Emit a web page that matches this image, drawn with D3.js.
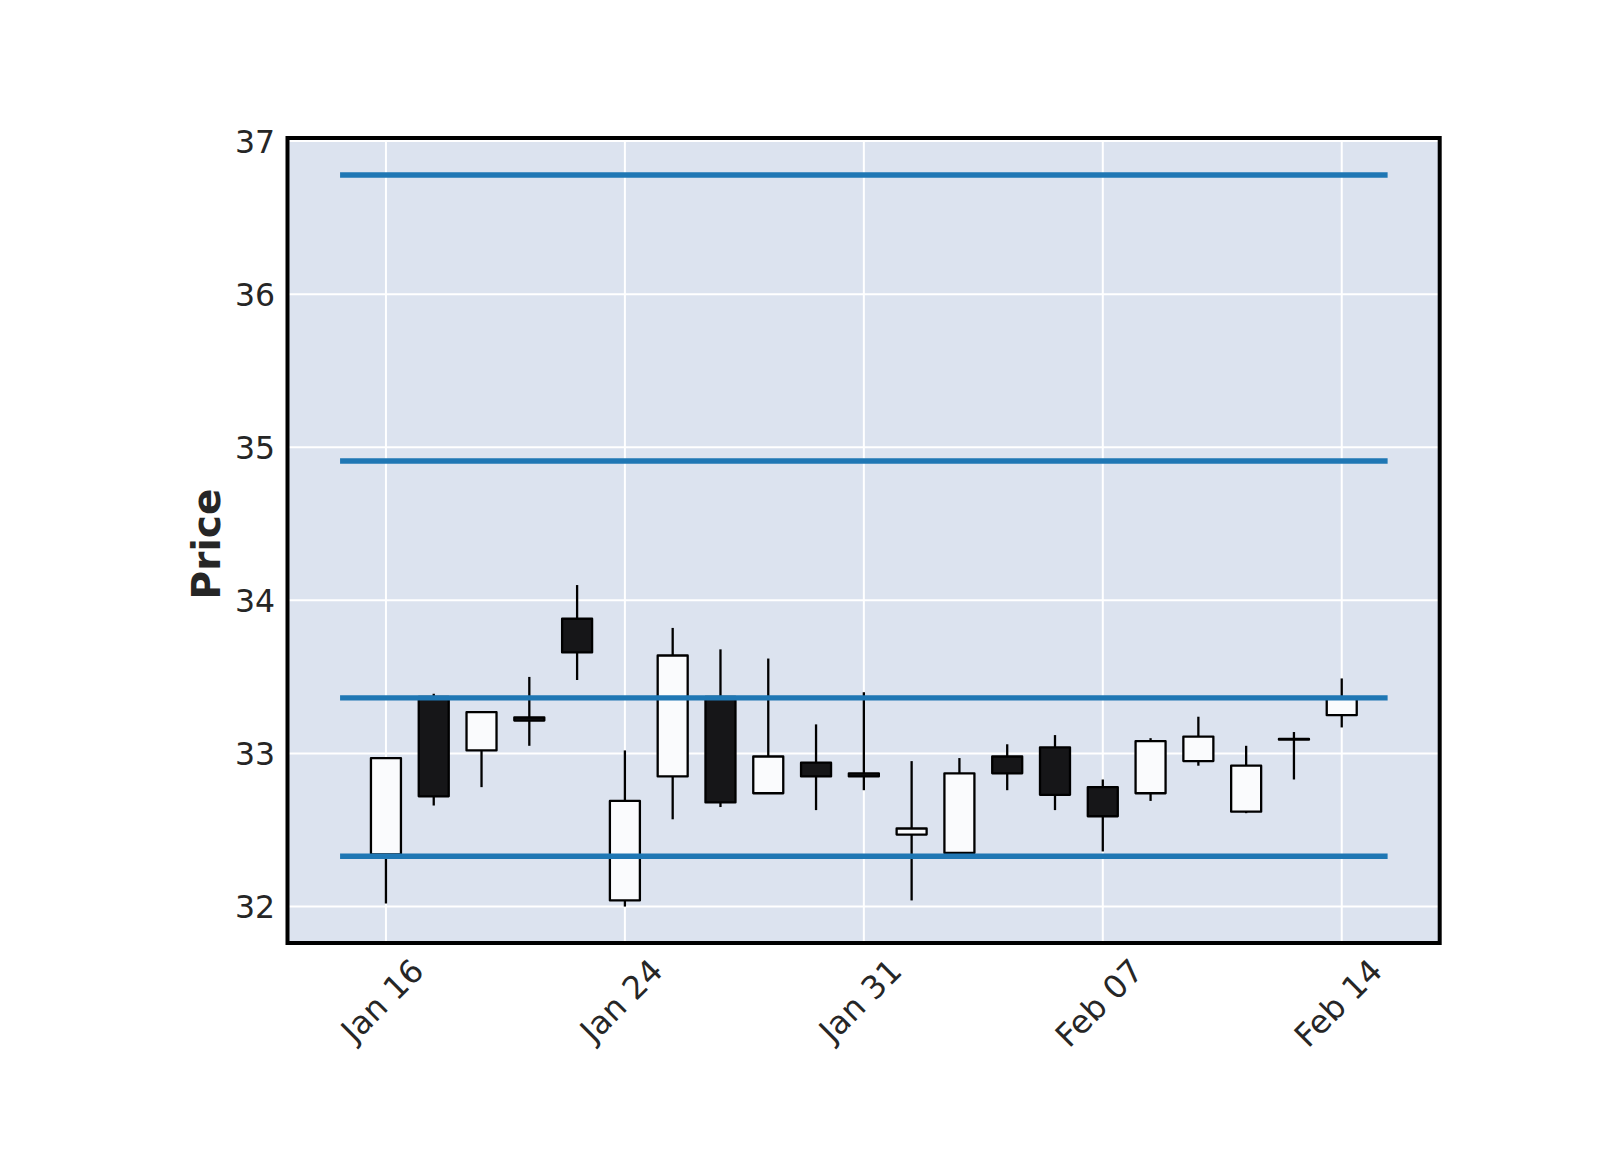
<!DOCTYPE html>
<html>
<head>
<meta charset="utf-8">
<script src="https://cdn.jsdelivr.net/npm/d3@7"></script>
<style>
  html, body { margin: 0; padding: 0; background: #ffffff; }
  svg { display: block; }
  text { font-family: "DejaVu Sans", sans-serif; }
</style>
</head>
<body>
<svg id="chart" width="1600" height="1150"></svg>
<script>
// ---- data ----
const dates = ["2019-01-16","2019-01-17","2019-01-18","2019-01-22","2019-01-23","2019-01-24",
               "2019-01-25","2019-01-28","2019-01-29","2019-01-30","2019-01-31",
               "2019-02-01","2019-02-04","2019-02-05","2019-02-06","2019-02-07",
               "2019-02-08","2019-02-11","2019-02-12","2019-02-13","2019-02-14"];
const opens  = [32.34, 33.37, 33.02, 33.235, 33.88, 32.04, 32.85, 33.37, 32.74, 32.94, 32.87,
                32.47, 32.35, 32.98, 33.04, 32.78, 32.74, 32.95, 32.62, 33.095, 33.25];
const highs  = [32.97, 33.39, 33.27, 33.50, 34.10, 33.02, 33.82, 33.68, 33.62, 33.19, 33.40,
                32.95, 32.97, 33.06, 33.12, 32.83, 33.10, 33.24, 33.05, 33.14, 33.49];
const lows   = [32.02, 32.66, 32.78, 33.05, 33.48, 32.00, 32.57, 32.65, 32.74, 32.63, 32.76,
                32.04, 32.35, 32.76, 32.63, 32.36, 32.69, 32.92, 32.61, 32.83, 33.17];
const closes = [32.97, 32.72, 33.27, 33.215, 33.66, 32.69, 33.64, 32.68, 32.98, 32.85, 32.85,
                32.51, 32.87, 32.87, 32.73, 32.59, 33.08, 33.11, 32.92, 33.09, 33.36];
const hlineValues = [36.778, 34.91, 33.363, 32.329];
const xTickLabels = ["Jan 16", "Jan 24", "Jan 31", "Feb 07", "Feb 14"];
const yTickValues = [32, 33, 34, 35, 36, 37];
const yLabel = "Price";

// ---- layout ----
const L = 287.5, R = 1439.7, T = 138, B = 943;
const svg = d3.select("#chart");

const parse = d3.timeParse("%Y-%m-%d");
const fmt = d3.timeFormat("%b %d");
const candles = dates.map((d, i) => ({
  i, date: parse(d), o: opens[i], h: highs[i], l: lows[i], c: closes[i]
}));

const x = d3.scaleLinear().domain([-2.06, 22.05]).range([L, R]);
const y = d3.scaleLinear().domain([31.762, 37.02]).range([B, T]);

const tickIdx = xTickLabels.map(lbl => candles.findIndex(c => fmt(c.date) === lbl));

// background
svg.append("rect").attr("x", L).attr("y", T).attr("width", R - L).attr("height", B - T)
  .attr("fill", "#dce3ef");

// grid
const grid = svg.append("g");
grid.selectAll("line.v").data(tickIdx).join("line")
  .attr("x1", d => x(d)).attr("x2", d => x(d)).attr("y1", T).attr("y2", B)
  .attr("stroke", "#ffffff").attr("stroke-width", 2);
grid.selectAll("line.h").data(yTickValues).join("line")
  .attr("x1", L).attr("x2", R).attr("y1", d => y(d)).attr("y2", d => y(d))
  .attr("stroke", "#ffffff").attr("stroke-width", 2);

// candles
const bodyW = 30;
const cg = svg.append("g");
cg.selectAll("line.wu").data(candles).join("line")
  .attr("x1", d => x(d.i)).attr("x2", d => x(d.i))
  .attr("y1", d => y(d.h)).attr("y2", d => y(Math.max(d.o, d.c)))
  .attr("stroke", "#000").attr("stroke-width", 2.3);
cg.selectAll("line.wl").data(candles).join("line")
  .attr("x1", d => x(d.i)).attr("x2", d => x(d.i))
  .attr("y1", d => y(Math.min(d.o, d.c))).attr("y2", d => y(d.l))
  .attr("stroke", "#000").attr("stroke-width", 2.3);
cg.selectAll("rect").data(candles).join("rect")
  .attr("x", d => x(d.i) - bodyW / 2)
  .attr("width", bodyW)
  .attr("y", d => y(Math.max(d.o, d.c)))
  .attr("height", d => Math.abs(y(d.o) - y(d.c)))
  .attr("fill", d => d.c >= d.o ? "#fafbfd" : "#161618")
  .attr("stroke", "#000").attr("stroke-width", 2.3)
  .attr("stroke-linejoin", "round");

// horizontal lines
svg.append("g").selectAll("line").data(hlineValues).join("line")
  .attr("x1", x(-0.96)).attr("x2", x(20.96))
  .attr("y1", d => y(d)).attr("y2", d => y(d))
  .attr("stroke", "#1f77b4").attr("stroke-width", 5.4);

// frame
svg.append("rect").attr("x", L).attr("y", T).attr("width", R - L).attr("height", B - T)
  .attr("fill", "none").attr("stroke", "#000").attr("stroke-width", 4);

// y axis
const yAxis = d3.axisLeft(y).tickValues(yTickValues).tickSize(0).tickPadding(12.5)
  .tickFormat(d3.format("d"));
const yg = svg.append("g").attr("transform", `translate(${L},0)`).call(yAxis);
yg.select(".domain").remove();
yg.selectAll("text").attr("font-size", 31.5).attr("fill", "#262626")
  .attr("font-family", "DejaVu Sans").attr("dy", "0.35em");

// x axis
const xFont = 32;
const xAxis = d3.axisBottom(x).tickValues(tickIdx).tickSize(0)
  .tickFormat((d, k) => xTickLabels[k]);
const xg = svg.append("g").attr("transform", `translate(0,${B})`).call(xAxis);
xg.select(".domain").remove();
xg.selectAll("text")
  .attr("font-size", xFont).attr("fill", "#262626").attr("font-family", "DejaVu Sans")
  .attr("text-anchor", "middle").attr("dominant-baseline", "central")
  .attr("y", null).attr("dy", null)
  .each(function() {
    const w = this.getComputedTextLength();
    const h = xFont * 1.164;
    const cy = 9 + (w + h) / (2 * Math.SQRT2);
    d3.select(this).attr("transform", `translate(-4,${cy}) rotate(-45)`);
  });

// y label
svg.append("text")
  .attr("transform", `translate(206.5,544) rotate(-90)`)
  .attr("text-anchor", "middle").attr("dominant-baseline", "central")
  .attr("font-size", 39).attr("font-weight", "bold").attr("fill", "#262626")
  .text(yLabel);
</script>
</body>
</html>
